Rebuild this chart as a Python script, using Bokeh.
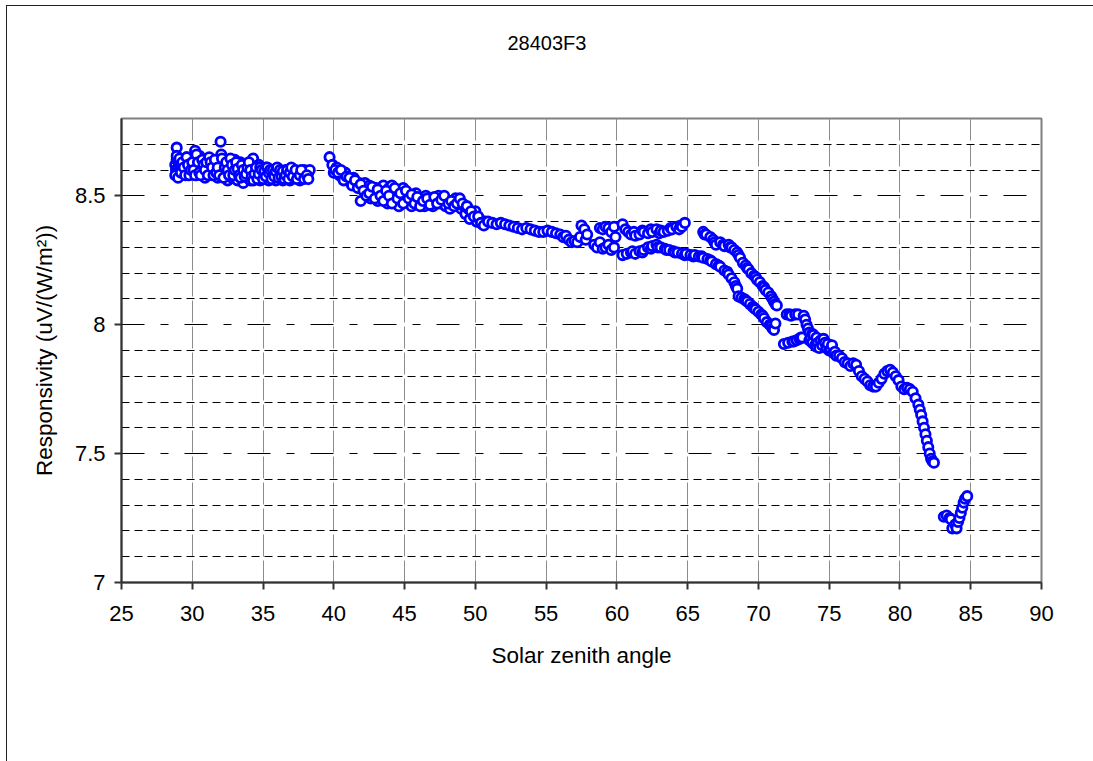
from bokeh.plotting import figure
from bokeh.models import FixedTicker, Title
from bokeh.embed import file_html
from bokeh.resources import INLINE

TITLE = "28403F3"
X_LABEL = "Solar zenith angle"
Y_LABEL = "Responsivity (uV/(W/m\u00b2))"
X_TICKS = [25, 30, 35, 40, 45, 50, 55, 60, 65, 70, 75, 80, 85, 90]
X_GRID = [30, 35, 40, 45, 50, 55, 60, 65, 70, 75, 80, 85]
Y_TICKS = [7, 7.5, 8, 8.5]
Y_TICK_LABELS = ["7", "7.5", "8", "8.5"]
Y_MAJOR_GRID = [7.5, 8, 8.5]
Y_MINOR_GRID = [7.1, 7.2, 7.3, 7.4, 7.6, 7.7, 7.8, 7.9, 8.1, 8.2, 8.3, 8.4, 8.6, 8.7]

# segment: 28.8 - 38.3 deg
sza_a = [28.8, 28.85, 28.9, 28.9, 28.95, 29.0, 29.05, 29.1, 29.15, 29.2, 29.3, 29.4, 29.5, 29.6, 29.7,
         29.8, 29.9, 30.0, 30.1, 30.2, 30.25, 30.3, 30.4, 30.5, 30.6, 30.7, 30.8, 30.9, 31.0, 31.1,
         31.2, 31.3, 31.4, 31.5, 31.6, 31.8, 31.9, 32.0, 32.05, 32.1, 32.2, 32.3, 32.4, 32.5, 32.6,
         32.7, 32.8, 32.9, 33.0, 33.1, 33.2, 33.3, 33.4, 33.5, 33.6, 33.7, 33.8, 33.9, 34.0, 34.1,
         34.2, 34.3, 34.4, 34.5, 34.6, 34.7, 34.8, 34.9, 35.0, 35.1, 35.2, 35.3, 35.4, 35.5, 35.6,
         35.7, 35.8, 35.9, 36.0, 36.1, 36.2, 36.3, 36.4, 36.5, 36.6, 36.7, 36.8, 36.9, 37.0, 37.2,
         37.3, 37.5, 37.6, 37.8, 37.9, 38.0, 38.2, 38.3]
resp_a = [8.62, 8.60, 8.687, 8.64, 8.59, 8.61, 8.63, 8.58, 8.60, 8.62, 8.60, 8.59, 8.63, 8.61, 8.58,
          8.60, 8.62, 8.59, 8.64, 8.675, 8.61, 8.58, 8.60, 8.655, 8.63, 8.59, 8.61, 8.57, 8.60, 8.64,
          8.59, 8.61, 8.58, 8.62, 8.60, 8.57, 8.63, 8.71, 8.66, 8.62, 8.60, 8.64, 8.58, 8.56, 8.63,
          8.60, 8.57, 8.62, 8.64, 8.59, 8.56, 8.61, 8.63, 8.58, 8.55, 8.60, 8.62, 8.57, 8.59, 8.56,
          8.63, 8.645, 8.60, 8.57, 8.59, 8.62, 8.56, 8.58, 8.60, 8.57, 8.61, 8.59, 8.56, 8.58, 8.60,
          8.57, 8.59, 8.56, 8.58, 8.60, 8.57, 8.59, 8.56, 8.58, 8.60, 8.57, 8.59, 8.56, 8.58, 8.60,
          8.57, 8.59, 8.56, 8.58, 8.60, 8.57, 8.59, 8.60]
sza_a2 = [28.8, 28.9, 29.0, 29.1, 29.2, 29.3, 29.4, 29.5, 29.6, 29.7, 29.8, 29.9, 30.0, 30.1, 30.2,
          30.3, 30.4, 30.5, 30.6, 30.7, 30.8, 30.9, 31.0, 31.1, 31.2, 31.3, 31.4, 31.5, 31.6, 31.7,
          31.8, 31.9, 32.1, 32.2, 32.3, 32.4, 32.5, 32.6, 32.7, 32.8, 32.9, 33.0, 33.1, 33.2, 33.3,
          33.4, 33.5, 33.6, 33.7, 33.8, 33.9, 34.0, 34.1, 34.2, 34.3, 34.4, 34.5, 34.6, 34.7, 34.8,
          34.9, 35.0, 35.1, 35.2, 35.3, 35.4, 35.5, 35.6, 35.7, 35.8, 35.9, 36.0, 36.1, 36.2, 36.3,
          36.4, 36.5, 36.6, 36.7, 36.8, 36.9, 37.0, 37.1, 37.3, 37.4, 37.6, 37.7, 37.9, 38.1, 38.2]
resp_a2 = [8.58, 8.655, 8.57, 8.645, 8.59, 8.63, 8.61, 8.58, 8.65, 8.62, 8.58, 8.60, 8.63, 8.60, 8.58,
           8.66, 8.63, 8.59, 8.58, 8.64, 8.62, 8.60, 8.63, 8.58, 8.65, 8.63, 8.61, 8.58, 8.64, 8.59,
           8.61, 8.58, 8.645, 8.57, 8.61, 8.63, 8.60, 8.58, 8.645, 8.62, 8.58, 8.60, 8.63, 8.605, 8.58,
           8.57, 8.62, 8.60, 8.575, 8.585, 8.61, 8.63, 8.60, 8.575, 8.56, 8.585, 8.61, 8.565, 8.585, 8.61,
           8.60, 8.565, 8.595, 8.575, 8.61, 8.59, 8.60, 8.565, 8.60, 8.575, 8.595, 8.61, 8.57, 8.60, 8.575,
           8.595, 8.565, 8.58, 8.60, 8.565, 8.59, 8.61, 8.575, 8.60, 8.565, 8.58, 8.60, 8.565, 8.58, 8.565]

# segment: 39.7 - 50.7 deg
sza_b = [39.7, 39.9, 40.0, 40.2, 40.4, 40.6, 40.8, 41.0, 41.2, 41.4, 41.6, 41.8, 41.9, 42.0, 42.2,
         42.4, 42.5, 42.6, 42.8, 43.0, 43.1, 43.2, 43.4, 43.5, 43.6, 43.8, 43.9, 44.0, 44.1, 44.2,
         44.4, 44.5, 44.6, 44.8, 44.9, 45.0, 45.2, 45.4, 45.5, 45.6, 45.8, 46.0, 46.2, 46.4, 46.5,
         46.7, 46.9, 47.0, 47.2, 47.4, 47.5, 47.7, 47.9, 48.0, 48.2, 48.4, 48.6, 48.8, 49.0, 49.2,
         49.3, 49.5, 49.6, 49.8, 50.0, 50.1, 50.3, 50.5, 50.7]
resp_b = [8.65, 8.62, 8.59, 8.61, 8.58, 8.57, 8.59, 8.56, 8.55, 8.57, 8.54, 8.55, 8.48, 8.53, 8.55,
          8.52, 8.54, 8.49, 8.51, 8.53, 8.48, 8.50, 8.52, 8.54, 8.49, 8.47, 8.53, 8.51, 8.54, 8.48,
          8.50, 8.52, 8.46, 8.49, 8.53, 8.51, 8.48, 8.50, 8.46, 8.49, 8.51, 8.47, 8.49, 8.46, 8.50,
          8.47, 8.49, 8.46, 8.48, 8.50, 8.47, 8.49, 8.46, 8.48, 8.45, 8.47, 8.49, 8.48, 8.45, 8.46,
          8.43, 8.45, 8.41, 8.43, 8.44, 8.40, 8.41, 8.39, 8.40]
sza_b2 = [40.1, 40.3, 40.5, 40.7, 40.9, 41.1, 41.3, 41.5, 41.7, 41.9, 42.1, 42.3, 42.5, 42.7, 42.9,
          43.1, 43.3, 43.5, 43.7, 43.9, 44.1, 44.3, 44.5, 44.7, 44.9, 45.1, 45.3, 45.5, 45.7, 45.9,
          46.1, 46.3, 46.6, 46.8, 47.1, 47.3, 47.6, 47.8, 48.1, 48.3, 48.5, 48.7, 48.9, 49.1, 49.4,
          49.7, 49.9, 50.2, 50.4, 50.6]
resp_b2 = [8.60, 8.59, 8.60, 8.56, 8.575, 8.57, 8.54, 8.56, 8.53, 8.545, 8.52, 8.50, 8.51, 8.535, 8.49,
           8.525, 8.50, 8.48, 8.52, 8.50, 8.47, 8.53, 8.49, 8.51, 8.47, 8.52, 8.49, 8.505, 8.47, 8.495,
           8.46, 8.48, 8.49, 8.465, 8.495, 8.47, 8.485, 8.50, 8.47, 8.48, 8.46, 8.47, 8.49, 8.47, 8.46,
           8.44, 8.42, 8.42, 8.395, 8.385]

# segment: 50.9 - 57.9 deg
sza_c = [50.9, 51.2, 51.5, 51.8, 52.1, 52.4, 52.7, 53.0, 53.3, 53.6, 53.9, 54.2, 54.5, 54.8, 55.1,
         55.4, 55.7, 56.0, 56.2, 56.4, 56.6, 56.8, 57.0, 57.2, 57.4, 57.5, 57.7, 57.8, 57.9]
resp_c = [8.40, 8.395, 8.39, 8.395, 8.39, 8.385, 8.38, 8.375, 8.37, 8.375, 8.37, 8.365, 8.36, 8.36, 8.365,
          8.36, 8.355, 8.35, 8.34, 8.345, 8.33, 8.32, 8.325, 8.32, 8.34, 8.385, 8.37, 8.33, 8.35]

# segment: 58.4 - 60.0 deg
sza_d = [58.4, 58.6, 58.8, 59.0, 59.2, 59.4, 59.6, 59.8, 58.8, 59.0, 59.2, 59.4, 59.6, 59.8, 59.9]
resp_d = [8.31, 8.30, 8.32, 8.295, 8.30, 8.31, 8.29, 8.30, 8.375, 8.37, 8.38, 8.375, 8.36, 8.38, 8.34]

# segment: 60.4 - 64.8 deg, upper branch
sza_e = [60.4, 60.6, 60.8, 61.0, 61.2, 61.3, 61.6, 61.8, 61.9, 62.2, 62.4, 62.5, 62.8, 63.0, 63.1,
         63.3, 63.6, 63.8, 63.9, 64.2, 64.4, 64.5, 64.6, 64.8]
resp_e = [8.39, 8.37, 8.36, 8.35, 8.36, 8.345, 8.35, 8.365, 8.36, 8.355, 8.37, 8.36, 8.37, 8.355, 8.365,
          8.36, 8.365, 8.375, 8.37, 8.38, 8.37, 8.385, 8.38, 8.395]

# segment: 60.4 - 71.2 deg, lower branch
sza_f = [60.4, 60.7, 61.0, 61.1, 61.3, 61.6, 61.8, 61.9, 62.2, 62.4, 62.5, 62.8, 62.9, 63.1, 63.4,
         63.5, 63.7, 64.0, 64.1, 64.3, 64.6, 64.8, 64.9, 65.2, 65.4, 65.5, 65.8, 66.0, 66.1, 66.4,
         66.6, 66.7, 67.0, 67.2, 67.3, 67.6, 67.8, 67.9, 68.1, 68.3, 68.4, 68.5, 68.6, 68.8, 69.0,
         69.1, 69.2, 69.4, 69.6, 69.7, 69.8, 70.0, 70.2, 70.3, 70.4, 70.6, 70.8, 70.9, 71.0, 71.1, 71.2]
resp_f = [8.27, 8.275, 8.28, 8.285, 8.275, 8.285, 8.28, 8.29, 8.30, 8.295, 8.305, 8.31, 8.30, 8.30, 8.295,
          8.29, 8.29, 8.285, 8.28, 8.28, 8.275, 8.27, 8.275, 8.27, 8.265, 8.27, 8.265, 8.265, 8.26, 8.255,
          8.25, 8.245, 8.235, 8.23, 8.225, 8.21, 8.205, 8.195, 8.18, 8.165, 8.15, 8.14, 8.11, 8.105, 8.10,
          8.095, 8.09, 8.08, 8.07, 8.065, 8.06, 8.05, 8.04, 8.035, 8.025, 8.01, 8.00, 7.995, 7.985, 7.98, 8.005]

# segment: 66.1 - 71.3 deg, upper branch
sza_g = [66.1, 66.2, 66.3, 66.6, 66.8, 66.9, 67.0, 67.3, 67.5, 67.6, 67.9, 68.0, 68.1, 68.3, 68.5,
         68.6, 68.7, 68.9, 69.1, 69.2, 69.3, 69.5, 69.7, 69.8, 69.9, 70.1, 70.3, 70.4, 70.5, 70.7,
         70.9, 71.0, 71.1, 71.2, 71.3]
resp_g = [8.36, 8.35, 8.35, 8.34, 8.33, 8.32, 8.31, 8.32, 8.31, 8.305, 8.31, 8.30, 8.30, 8.29, 8.28,
          8.27, 8.26, 8.24, 8.23, 8.22, 8.215, 8.20, 8.19, 8.185, 8.175, 8.165, 8.15, 8.145, 8.135, 8.125,
          8.11, 8.10, 8.09, 8.08, 8.075]

# segment: 71.8 - 75.7 deg
sza_h = [71.8, 72.0, 72.1, 72.2, 72.3, 72.4, 72.5, 72.6, 72.7, 72.8, 72.9, 73.0, 73.1, 73.2, 73.3,
         73.4, 73.5, 73.6, 73.6, 73.7, 73.8, 73.8, 73.9, 74.0, 74.1, 74.1, 74.2, 74.3, 74.4, 74.5,
         74.6, 74.7, 74.8, 74.9, 75.0, 75.1, 75.2, 75.3, 75.4, 75.5, 75.7]
resp_h = [7.925, 8.04, 7.93, 8.04, 8.035, 7.935, 7.935, 8.04, 7.94, 8.04, 7.945, 7.95, 7.95, 8.035, 8.02,
          8.00, 7.985, 7.97, 7.94, 7.95, 7.93, 7.965, 7.96, 7.92, 7.95, 7.915, 7.93, 7.91, 7.94, 7.92,
          7.945, 7.93, 7.91, 7.925, 7.90, 7.905, 7.92, 7.89, 7.895, 7.88, 7.88]

# segment: 75.9 - 82.4 deg
sza_i = [75.9, 76.1, 76.3, 76.5, 76.7, 76.9, 77.1, 77.3, 77.5, 77.7, 77.9, 78.1, 78.3, 78.5, 78.7,
         78.9, 79.1, 79.3, 79.5, 79.7, 79.9, 80.1, 80.3, 80.5, 80.7, 80.9, 81.1, 81.3, 81.4, 81.5,
         81.6, 81.7, 81.8, 81.9, 82.0, 82.1, 82.2, 82.3, 82.4]
resp_i = [7.87, 7.855, 7.85, 7.84, 7.85, 7.845, 7.82, 7.80, 7.79, 7.78, 7.765, 7.76, 7.76, 7.775, 7.79,
          7.81, 7.82, 7.825, 7.815, 7.80, 7.785, 7.76, 7.75, 7.755, 7.75, 7.74, 7.715, 7.69, 7.67, 7.65,
          7.625, 7.60, 7.575, 7.55, 7.525, 7.50, 7.48, 7.47, 7.465]

# segment: 83.1 - 84.75 deg
sza_j = [83.1, 83.3, 83.5, 83.6, 83.7, 83.9, 84.0, 84.1, 84.2, 84.3, 84.4, 84.5, 84.6, 84.75]
resp_j = [7.255, 7.26, 7.25, 7.245, 7.21, 7.225, 7.21, 7.235, 7.25, 7.27, 7.29, 7.31, 7.325, 7.335]

sza = (sza_a + sza_a2 + sza_b + sza_b2 + sza_c + sza_d + sza_e + sza_f + sza_g + sza_h
       + sza_i + sza_j)
resp = (resp_a + resp_a2 + resp_b + resp_b2 + resp_c + resp_d + resp_e + resp_f + resp_g + resp_h
        + resp_i + resp_j)

FONT = "Liberation Sans"

p = figure(width=1090, height=757, x_range=(25, 90), y_range=(7, 8.8),
           output_backend="svg", toolbar_location=None,
           min_border_left=114, min_border_right=56, min_border_top=112, min_border_bottom=181,
           margin=(6, 0, 0, 7))
p.styles = {"outline": "1.5px solid #222222"}
p.background_fill_color = "white"
p.border_fill_color = "white"
p.outline_line_color = "#808080"
p.outline_line_width = 2

# main title (outermost above panel)
p.title.text = TITLE
p.title.align = "left"
p.title.offset = 386
p.title.standoff = 0
p.title.text_font = FONT
p.title.text_font_size = "20px"
p.title.text_font_style = "normal"
p.title.text_color = "black"

# blank spacer panel between title and frame
spacer = Title(text=" ", text_font=FONT, text_font_size="10px", standoff=52)
p.add_layout(spacer, "above")

# grids
p.xgrid.ticker = FixedTicker(ticks=X_GRID)
p.xgrid.grid_line_color = "#8c8c8c"
p.xgrid.grid_line_width = 1
p.xgrid.grid_line_dash = "22 4"

p.ygrid.ticker = FixedTicker(ticks=Y_MAJOR_GRID, minor_ticks=Y_MINOR_GRID)
p.ygrid.grid_line_color = "black"
p.ygrid.grid_line_width = 1
p.ygrid.grid_line_dash = "23 16 8 16"
p.ygrid.minor_grid_line_color = "black"
p.ygrid.minor_grid_line_width = 1
p.ygrid.minor_grid_line_dash = "8 5"

# axes
p.xaxis.ticker = FixedTicker(ticks=X_TICKS)
p.yaxis.ticker = FixedTicker(ticks=Y_TICKS)
p.yaxis.major_label_overrides = {t: s for t, s in zip(Y_TICKS, Y_TICK_LABELS)}
for ax in (p.xaxis[0], p.yaxis[0]):
    ax.axis_line_color = "#333333"
    ax.axis_line_width = 2
    ax.major_tick_line_color = "#333333"
    ax.major_tick_line_width = 2
    ax.major_tick_in = 0
    ax.major_tick_out = 7
    ax.minor_tick_line_color = None
    ax.major_label_text_font = FONT
    ax.major_label_text_font_size = "22px"
    ax.major_label_text_color = "black"
    ax.axis_label_text_font = FONT
    ax.axis_label_text_font_size = "22.5px"
    ax.axis_label_text_font_style = "normal"
    ax.axis_label_text_color = "black"

p.xaxis.axis_label = X_LABEL
p.yaxis.axis_label = Y_LABEL
p.xaxis.major_label_standoff = 16
p.xaxis.axis_label_standoff = 19
p.yaxis.major_label_standoff = 9
p.yaxis.axis_label_standoff = 15

p.scatter(sza, resp, marker="circle", size=9.3, line_color="#0000FF", line_width=2.8,
          fill_color="white")

open("out.html", "w").write(file_html(p, INLINE))
